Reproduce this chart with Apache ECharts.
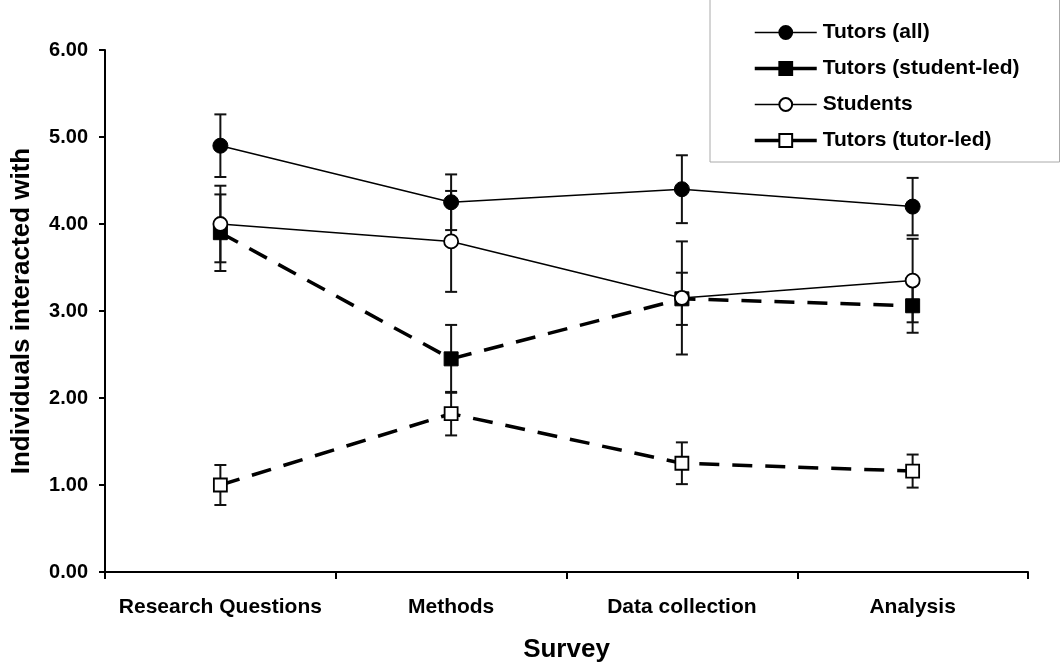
<!DOCTYPE html>
<html>
<head>
<meta charset="utf-8">
<script src="https://cdn.jsdelivr.net/npm/echarts@6/dist/echarts.min.js"></script>
<style>
html,body{margin:0;padding:0;background:#fff;}
#chart{width:1060px;height:663px;}
</style>
</head>
<body>
<div id="chart"></div>
<script>
// ---- data ----
var categories = ['Research Questions', 'Methods', 'Data collection', 'Analysis'];
var seriesNames = ['Tutors (all)', 'Tutors (student-led)', 'Students', 'Tutors (tutor-led)'];
var tutorsAll = [4.90, 4.25, 4.40, 4.20];
var tutorsAllErr = [0.36, 0.32, 0.39, 0.33];
var tutorsStudentLed = [3.90, 2.45, 3.14, 3.06];
var tutorsStudentLedErr = [0.44, 0.39, 0.30, 0.31];
var students = [4.00, 3.80, 3.15, 3.35];
var studentsErr = [0.44, 0.58, 0.65, 0.48];
var tutorsTutorLed = [1.00, 1.82, 1.25, 1.16];
var tutorsTutorLedErr = [0.23, 0.25, 0.24, 0.19];
var yTicks = [0, 1, 2, 3, 4, 5, 6];

var FONT = 'Liberation Sans, Arial, sans-serif';

function errData(vals, errs) {
  return vals.map(function (v, i) { return [i, v, errs[i]]; });
}
function errSeries(name, vals, errs) {
  return {
    type: 'custom',
    name: name + ' error',
    z: 1,
    silent: true,
    data: errData(vals, errs),
    renderItem: function (params, api) {
      var x = api.value(0), m = api.value(1), e = api.value(2);
      var top = api.coord([x, m + e]);
      var bot = api.coord([x, m - e]);
      var hw = 6;
      var st = { stroke: '#111', lineWidth: 2 };
      return {
        type: 'group',
        children: [
          { type: 'line', shape: { x1: top[0], y1: top[1], x2: bot[0], y2: bot[1] }, style: st },
          { type: 'line', shape: { x1: top[0] - hw, y1: top[1], x2: top[0] + hw, y2: top[1] }, style: st },
          { type: 'line', shape: { x1: bot[0] - hw, y1: bot[1], x2: bot[0] + hw, y2: bot[1] }, style: st }
        ]
      };
    }
  };
}

var chart = echarts.init(document.getElementById('chart'));
chart.setOption({
  animation: false,
  backgroundColor: '#fff',
  textStyle: { fontFamily: FONT },
  grid: { left: 105, right: 32, top: 50, bottom: 91, containLabel: false, outerBoundsMode: 'none' },
  legend: {
    data: [
      { name: seriesNames[0], lineStyle: { width: 1.5, type: 'solid', color: '#000' } },
      { name: seriesNames[1], lineStyle: { width: 3.5, type: 'solid', color: '#000' } },
      { name: seriesNames[2], lineStyle: { width: 1.5, type: 'solid', color: '#000' } },
      { name: seriesNames[3], lineStyle: { width: 3.5, type: 'solid', color: '#000' } }
    ],
    orient: 'vertical',
    left: 710,
    top: -1,
    width: 360,
    padding: [23, 40, 11, 43],
    itemGap: 15,
    itemWidth: 62,
    itemHeight: 16,
    backgroundColor: '#fff',
    borderColor: '#aaaaaa',
    borderWidth: 1,
    textStyle: { fontFamily: FONT, fontSize: 21, fontWeight: 'bold', color: '#000', padding: [0, 0, 0, 1] }
  },
  xAxis: {
    type: 'category',
    data: categories,
    boundaryGap: true,
    name: 'Survey',
    nameLocation: 'middle',
    nameGap: 65,
    nameTextStyle: { fontFamily: FONT, fontSize: 26, fontWeight: 'bold', color: '#000' },
    axisLine: { lineStyle: { color: '#000', width: 2 } },
    axisTick: { show: true, interval: 0, length: 7, lineStyle: { color: '#000', width: 2 } },
    axisLabel: { interval: 0, margin: 25, fontFamily: FONT, fontSize: 21, fontWeight: 'bold', color: '#000' },
    splitLine: { show: false }
  },
  yAxis: {
    type: 'value',
    min: yTicks[0],
    max: yTicks[yTicks.length - 1],
    interval: 1,
    name: 'Individuals interacted with',
    nameLocation: 'middle',
    nameGap: 70,
    nameTextStyle: { fontFamily: FONT, fontSize: 26, fontWeight: 'bold', color: '#000' },
    axisLine: { show: true, lineStyle: { color: '#000', width: 2 } },
    axisTick: { show: true, length: 6, lineStyle: { color: '#000', width: 2 } },
    axisLabel: {
      margin: 17, fontFamily: FONT, fontSize: 20, fontWeight: 'bold', color: '#000',
      formatter: function (v) { return v.toFixed(2); }
    },
    splitLine: { show: false }
  },
  series: [
    errSeries(seriesNames[0], tutorsAll, tutorsAllErr),
    errSeries(seriesNames[1], tutorsStudentLed, tutorsStudentLedErr),
    errSeries(seriesNames[2], students, studentsErr),
    errSeries(seriesNames[3], tutorsTutorLed, tutorsTutorLedErr),
    {
      type: 'line', name: seriesNames[0], data: tutorsAll, z: 3,
      symbol: 'circle', symbolSize: 15,
      itemStyle: { color: '#000', borderColor: '#000', borderWidth: 1 },
      lineStyle: { color: '#000', width: 1.5, type: 'solid' }
    },
    {
      type: 'line', name: seriesNames[1], data: tutorsStudentLed, z: 3,
      symbol: 'rect', symbolSize: 14,
      itemStyle: { color: '#000', borderColor: '#000', borderWidth: 1 },
      lineStyle: { color: '#000', width: 3.5, type: [20, 13] }
    },
    {
      type: 'line', name: seriesNames[2], data: students, z: 4,
      symbol: 'circle', symbolSize: 14,
      itemStyle: { color: '#fff', borderColor: '#000', borderWidth: 1.8 },
      lineStyle: { color: '#000', width: 1.5, type: 'solid' }
    },
    {
      type: 'line', name: seriesNames[3], data: tutorsTutorLed, z: 4,
      symbol: 'rect', symbolSize: 13,
      itemStyle: { color: '#fff', borderColor: '#000', borderWidth: 1.8 },
      lineStyle: { color: '#000', width: 3.5, type: [20, 13] }
    }
  ]
});
</script>
</body>
</html>
